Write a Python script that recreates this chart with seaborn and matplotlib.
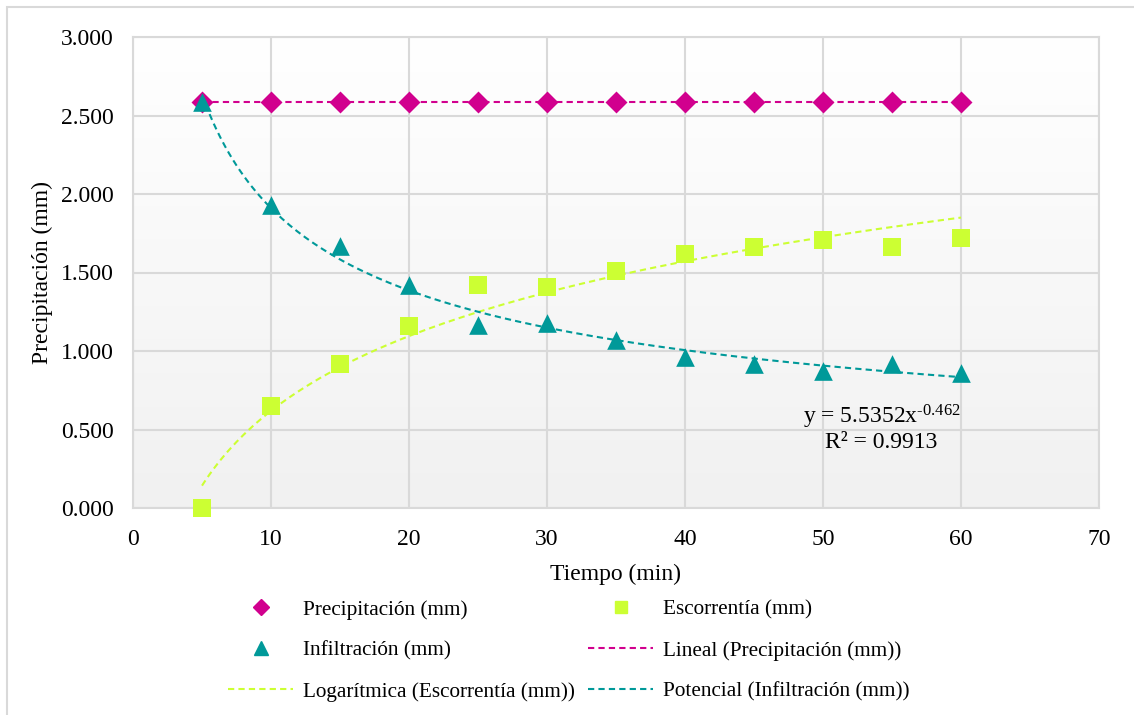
import numpy as np
import pandas as pd
import matplotlib
matplotlib.use("Agg")
import matplotlib.pyplot as plt
import seaborn as sns
from matplotlib.lines import Line2D
from matplotlib.patches import Rectangle
from matplotlib.ticker import FormatStrFormatter, MultipleLocator

# ---------------- data ----------------
tiempo = [5, 10, 15, 20, 25, 30, 35, 40, 45, 50, 55, 60]
precipitacion = [2.583] * 12
escorrentia = [0.000, 0.650, 0.917, 1.160, 1.420, 1.405, 1.510, 1.620, 1.665, 1.710, 1.665, 1.720]
infiltracion = [2.583, 1.933, 1.666, 1.423, 1.163, 1.178, 1.073, 0.963, 0.918, 0.873, 0.918, 0.863]

x_label = "Tiempo (min)"
y_label = "Precipitación (mm)"
labels = ["Precipitación (mm)", "Escorrentía (mm)", "Infiltración (mm)",
          "Lineal (Precipitación (mm))", "Logarítmica (Escorrentía (mm))",
          "Potencial (Infiltración (mm))"]
eq_text = r"y = 5.5352x$^{\text{-0.462}}$"
r2_text = "R² = 0.9913"

c_prec = "#D1008E"
c_esc = "#CCFF33"
c_inf = "#009999"

# ---------------- style ----------------
sns.set_theme(style="white")
plt.rcParams["font.family"] = ["Liberation Serif", "DejaVu Serif"]
plt.rcParams["mathtext.fontset"] = "custom"
plt.rcParams["mathtext.rm"] = "Liberation Serif"
plt.rcParams["mathtext.default"] = "regular"
for k in ["text.color", "axes.labelcolor", "xtick.color", "ytick.color"]:
    plt.rcParams[k] = "black"
FS = 17
LFS = 15.3

fig = plt.figure(figsize=(11.34, 7.15), dpi=100)
ax = fig.add_axes([133 / 1134, 1 - 508 / 715, (1099 - 133) / 1134, (508 - 37) / 715])

# outer chart border
fig.patches.append(Rectangle((7 / 1134, -0.1), 1.2, 1.1 - 7 / 715, transform=fig.transFigure,
                             fill=False, edgecolor="#D9D9D9", linewidth=1.5, zorder=0))

# gradient background of plot area
grad = np.linspace(0, 1, 256).reshape(-1, 1)
ax.imshow(grad, extent=[0, 1, 0, 1], transform=ax.transAxes, aspect="auto",
          cmap=matplotlib.colors.LinearSegmentedColormap.from_list("g", ["#F1F1F1", "#FFFFFF"]),
          origin="lower", zorder=0)

# ---------------- trend lines ----------------
xt = np.asarray(tiempo, dtype=float)
xs = np.linspace(xt.min(), xt.max(), 200)
b_lin = np.polyfit(xt, precipitacion, 1)
b_log = np.polyfit(np.log(xt), escorrentia, 1)
b_pow = np.polyfit(np.log(xt), np.log(infiltracion), 1)
trend = pd.DataFrame({
    "x": xs,
    "lin": np.polyval(b_lin, xs),
    "log": np.polyval(b_log, np.log(xs)),
    "pow": np.exp(b_pow[1]) * xs ** b_pow[0],
})
dash = (3, 2)
sns.lineplot(data=trend, x="x", y="lin", ax=ax, color=c_prec, lw=1.5, zorder=3)
sns.lineplot(data=trend, x="x", y="log", ax=ax, color=c_esc, lw=1.5, zorder=3)
sns.lineplot(data=trend, x="x", y="pow", ax=ax, color=c_inf, lw=1.5, zorder=3)
for ln in ax.lines:
    ln.set_dashes(dash)

# ---------------- markers ----------------
df = pd.DataFrame({"t": tiempo, "p": precipitacion, "e": escorrentia, "i": infiltracion})
sns.scatterplot(data=df, x="t", y="p", ax=ax, marker="D", s=125, color=c_prec, edgecolor=c_prec,
                linewidth=0, zorder=4, clip_on=False)
sns.scatterplot(data=df, x="t", y="e", ax=ax, marker="s", s=160, color=c_esc, edgecolor=c_esc,
                linewidth=0, zorder=4, clip_on=False)
sns.scatterplot(data=df, x="t", y="i", ax=ax, marker="^", s=180, color=c_inf, edgecolor=c_inf,
                linewidth=0, zorder=5, clip_on=False)

# ---------------- axes ----------------
ax.set_xlim(0, 70)
ax.set_ylim(0, 3.0)
ax.xaxis.set_major_locator(MultipleLocator(10))
ax.yaxis.set_major_locator(MultipleLocator(0.5))
ax.yaxis.set_major_formatter(FormatStrFormatter("%.3f"))
ax.grid(True, color="#D9D9D9", linewidth=1.5, zorder=1)
ax.set_axisbelow(True)
for s in ax.spines.values():
    s.set_color("#D9D9D9")
    s.set_linewidth(1.5)
ax.tick_params(axis="both", length=0, labelsize=FS, colors="black")
ax.tick_params(axis="x", pad=15)
ax.tick_params(axis="y", pad=14)
ax.set_xlabel(x_label, fontsize=FS, labelpad=10)
ax.set_ylabel(y_label, fontsize=FS, labelpad=5.5)

# equation annotation
fig.text(882 / 1134, 1 - 417 / 715, eq_text, ha="center", va="center", fontsize=FS)
fig.text(881 / 1134, 1 - 443 / 715, r2_text, ha="center", va="center", fontsize=FS)

# ---------------- legend ----------------
h = [
    Line2D([], [], ls="none", marker="D", color=c_prec, markersize=8),
    Line2D([], [], ls="none", marker="^", color=c_inf, markersize=10),
    Line2D([], [], color=c_esc, lw=1.5, dashes=dash),
    Line2D([], [], ls="none", marker="s", color=c_esc, markersize=9),
    Line2D([], [], color=c_prec, lw=1.5, dashes=dash),
    Line2D([], [], color=c_inf, lw=1.5, dashes=dash),
]
lab = [labels[0], labels[2], labels[4], labels[1], labels[3], labels[5]]
fig.legend(h, lab, loc="upper center", bbox_to_anchor=(569 / 1134, 1 - 589 / 715), ncol=2,
           frameon=False, fontsize=LFS, handlelength=3.06, handletextpad=0.47,
           columnspacing=0.62, labelspacing=1.0, borderpad=0)

fig.savefig("out.png", dpi=100)
